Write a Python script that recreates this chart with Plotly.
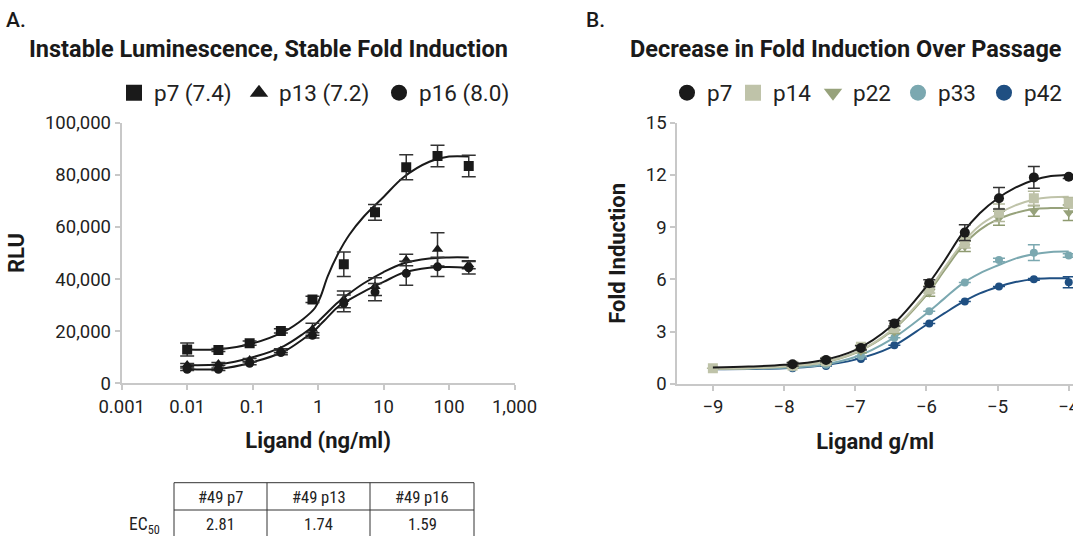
import plotly.graph_objects as go

# ---------------- Panel A data ----------------
a_conc = [0.01, 0.03, 0.09, 0.27, 0.82, 2.47, 7.4, 22.2, 66.7, 200]
a_p7 = [13000, 12800, 15400, 20100, 32200, 45700, 65600, 82900, 87200, 83400]
a_p7_err = [2500, 600, 800, 800, 1200, 4700, 3000, 4800, 4100, 4100]
a_p13 = [7000, 7400, 8900, 12500, 20700, 32200, 37100, 47300, 51400, 45500]
a_p13_err = [600, 600, 600, 800, 2300, 3200, 3400, 2200, 6400, 1500]
a_p16 = [5400, 5400, 7700, 11800, 18400, 30700, 35000, 42200, 44700, 44300]
a_p16_err = [500, 500, 600, 800, 1000, 3200, 3300, 4600, 3700, 2400]

a_fit_conc = [0.01, 0.03, 0.1, 0.3, 0.6, 0.9, 1.1, 1.4, 2, 3, 5, 10, 20, 50, 100, 200]
a_p7_fit = [13000, 13100, 15300, 19800, 24800, 29000, 33500, 41000, 49500, 57000,
            64000, 71500, 79000, 85000, 87000, 87000]
a_p13_fit = [7000, 7300, 10000, 14300, 19100, 22500, 24700, 27300, 31000, 34500,
             38400, 42700, 46000, 47900, 48300, 48300]
a_p16_fit = [5500, 5500, 8100, 12200, 17100, 20500, 22700, 25400, 29300, 32100,
             35200, 38900, 42400, 44300, 44600, 44200]

a_names = ["p7 (7.4)", "p13 (7.2)", "p16 (8.0)"]
a_xticks = [0.001, 0.01, 0.1, 1, 10, 100, 1000]
a_xticktext = ["0.001", "0.01", "0.1", "1", "10", "100", "1,000"]
a_yticks = [0, 20000, 40000, 60000, 80000, 100000]

# ---------------- Panel B data ----------------
b_logc = [-9, -7.88, -7.41, -6.92, -6.45, -5.96, -5.46, -4.98, -4.49, -4.0]
b_p7 = [None, 1.13, 1.38, 2.07, 3.48, 5.78, 8.69, 10.66, 11.86, 11.9]
b_p7_err = [0, 0.1, 0.1, 0.12, 0.15, 0.2, 0.45, 0.62, 0.63, 0.1]
b_p14 = [0.9, 1.05, 1.3, 2.14, 3.2, 5.43, 8.1, 9.83, 10.66, 10.41]
b_p14_err = [0, 0.1, 0.1, 0.1, 0.1, 0.2, 0.3, 0.5, 0.4, 0.3]
b_p22 = [None, 1.0, 1.25, 1.9, 3.0, 5.24, 7.9, 9.51, 9.93, 9.83]
b_p22_err = [0, 0.1, 0.1, 0.1, 0.1, 0.2, 0.3, 0.4, 0.3, 0.45]
b_p33 = [None, 0.95, 1.1, 1.6, 2.66, 4.17, 5.82, 7.12, 7.54, 7.37]
b_p33_err = [0, 0, 0, 0, 0, 0, 0, 0.1, 0.45, 0.1]
b_p42 = [None, 0.90, 1.03, 1.43, 2.22, 3.48, 4.73, 5.59, 6.01, 5.84]
b_p42_err = [0, 0, 0, 0, 0, 0, 0, 0, 0.05, 0.32]

b_fit_x = [-9, -8.5, -8, -7.5, -7, -6.5, -6, -5.75, -5.5, -5.25, -5, -4.75, -4.5, -4.25, -4]
b_p7_fit = [0.95, 1.0, 1.1, 1.33, 1.95, 3.3, 5.6, 7.05, 8.62, 9.8, 10.65, 11.27, 11.7, 11.94, 12.0]
b_p14_fit = [0.88, 0.9, 1.0, 1.2, 1.8, 3.05, 5.2, 6.65, 8.05, 9.1, 9.75, 10.25, 10.58, 10.72, 10.75]
b_p22_fit = [0.88, 0.9, 1.0, 1.2, 1.78, 3.0, 5.1, 6.5, 7.88, 8.85, 9.45, 9.82, 10.05, 10.1, 10.1]
b_p33_fit = [0.87, 0.88, 0.93, 1.08, 1.55, 2.55, 4.05, 4.9, 5.75, 6.35, 6.8, 7.2, 7.45, 7.58, 7.6]
b_p42_fit = [0.85, 0.86, 0.9, 1.05, 1.4, 2.1, 3.4, 4.05, 4.68, 5.2, 5.57, 5.85, 6.02, 6.07, 6.07]

b_names = ["p7", "p14", "p22", "p33", "p42"]

# ---------------- Table ----------------
table_cols = ["#49 p7", "#49 p13", "#49 p16"]
table_ec50 = ["2.81", "1.74", "1.59"]

# ---------------- Styles ----------------
FONT = "Roboto"
NARROW = "Roboto Condensed, Liberation Sans Narrow, Arial Narrow, DejaVu Sans Condensed, sans-serif"
INK = "#1a1a1a"
AXIS = "#c8c8c8"
W, H = 1073, 536

def px(x):
    return x / W

def py(y):
    return 1 - y / H

fig = go.Figure()

# legend slots (one per entry, so each entry sits where the reference puts it)
a_legend_ids = ["legend", "legend2", "legend3"]
a_legend_x = [114, 239, 379]
b_legend_ids = ["legend4", "legend5", "legend6", "legend7", "legend8"]
b_legend_x = [667, 733, 813, 898, 984]

# Panel A traces
a_sets = [
    (a_p7, a_p7_err, a_p7_fit, "square", 10),
    (a_p13, a_p13_err, a_p13_fit, "triangle-up", 10),
    (a_p16, a_p16_err, a_p16_fit, "circle", 9),
]
for k, ((vals, err, fit, sym, sz), name) in enumerate(zip(a_sets, a_names)):
    fig.add_trace(go.Scatter(
        x=a_fit_conc, y=fit, mode="lines", line=dict(color=INK, width=2, shape="spline", smoothing=1),
        xaxis="x", yaxis="y", showlegend=False, hoverinfo="skip"))
    fig.add_trace(go.Scatter(
        x=a_conc, y=vals, mode="markers", name=name,
        marker=dict(symbol=sym, size=sz, color=INK),
        error_y=dict(type="data", array=err, visible=True, color="#333333", thickness=1.5, width=7),
        xaxis="x", yaxis="y", showlegend=False))
    fig.add_trace(go.Scatter(
        x=[None], y=[None], mode="markers", name=name,
        marker=dict(symbol=sym, size=16, color=INK),
        xaxis="x", yaxis="y", legend=a_legend_ids[k], showlegend=True))

# Panel B traces
b_colors = ["#1a1a1a", "#bfc3a9", "#97a27b", "#7ba8b0", "#1f4f82"]
b_err_colors = ["#333333", "#b3b89b", "#8e9a70", "#7ba8b0", "#1f4f82"]
b_symbols = ["circle", "square", "triangle-down", "circle", "circle"]
b_sizes = [10, 10, 10, 8, 8]
b_vals = [b_p7, b_p14, b_p22, b_p33, b_p42]
b_errs = [b_p7_err, b_p14_err, b_p22_err, b_p33_err, b_p42_err]
b_fits = [b_p7_fit, b_p14_fit, b_p22_fit, b_p33_fit, b_p42_fit]

for i in [4, 3, 2, 1, 0]:
    fig.add_trace(go.Scatter(
        x=b_fit_x, y=b_fits[i], mode="lines",
        line=dict(color=b_colors[i], width=2, shape="spline", smoothing=1),
        xaxis="x2", yaxis="y2", showlegend=False, hoverinfo="skip"))
    fig.add_trace(go.Scatter(
        x=b_logc, y=b_vals[i], mode="markers", name=b_names[i],
        marker=dict(symbol=b_symbols[i], size=b_sizes[i], color=b_colors[i]),
        error_y=dict(type="data", array=b_errs[i], visible=True, color=b_err_colors[i],
                     thickness=1.5, width=6),
        xaxis="x2", yaxis="y2", showlegend=False))

for i in range(5):
    fig.add_trace(go.Scatter(
        x=[None], y=[None], mode="markers", name=b_names[i],
        marker=dict(symbol=b_symbols[i], size=16, color=b_colors[i]),
        xaxis="x2", yaxis="y2", legend=b_legend_ids[i], showlegend=True))

axis_common = dict(
    showline=True, linecolor=AXIS, linewidth=2, ticks="outside", ticklen=5,
    tickcolor=AXIS, tickwidth=2, showgrid=False, zeroline=False, automargin=False,
    ticklabeloverflow="allow",
    tickfont=dict(family=FONT, size=18.5, color="#222222"),
)
title_font = dict(family=FONT, size=22, color="#1a1a1a", weight="bold")

legend_style = dict(orientation="h", xanchor="left", y=py(93), yanchor="middle",
                    font=dict(family=FONT, size=22.5, color="#222222"),
                    bgcolor="rgba(0,0,0,0)", itemwidth=30, itemclick=False,
                    itemdoubleclick=False)
legends = {}
for lid, lx in zip(a_legend_ids + b_legend_ids, a_legend_x + b_legend_x):
    legends[lid] = dict(x=px(lx), **legend_style)

fig.update_layout(
    width=W, height=H,
    margin=dict(l=0, r=0, t=0, b=0, autoexpand=False),
    paper_bgcolor="white", plot_bgcolor="white",
    font=dict(family=FONT, color="#222222"),
    xaxis=dict(type="log", range=[-3, 3], domain=[px(121.7), px(514.5)], anchor="y",
               tickvals=a_xticks, ticktext=a_xticktext,
               title=dict(text="Ligand (ng/ml)", font=title_font, standoff=16),
               **axis_common),
    yaxis=dict(range=[0, 100000], domain=[py(383.3), py(122.7)], anchor="x",
               tickvals=a_yticks, tickformat=",",
               title=dict(text="RLU", font=title_font, standoff=14),
               **axis_common),
    xaxis2=dict(range=[-9.5, -3.94], domain=[px(677.3), 1.0], anchor="y2",
                tick0=-9, dtick=1,
                title=dict(text="Ligand g/ml", font=title_font, standoff=16),
                **axis_common),
    yaxis2=dict(range=[0, 15], domain=[py(384), py(122.7)], anchor="x2",
                tick0=0, dtick=3,
                title=dict(text="Fold Induction", font=title_font, standoff=14),
                **axis_common),
    showlegend=True,
    **legends,
)

annotations = [
    dict(text="A.", x=px(4), y=py(20), xanchor="left", yanchor="middle",
         font=dict(family=FONT, size=21, color="#1a1a1a", weight=500)),
    dict(text="Instable Luminescence, Stable Fold Induction", x=px(268), y=py(49),
         xanchor="center", yanchor="middle",
         font=dict(family=FONT, size=23.5, color="#1a1a1a", weight="bold")),
    dict(text="B.", x=px(584), y=py(20), xanchor="left", yanchor="middle",
         font=dict(family=FONT, size=21, color="#1a1a1a", weight=500)),
    dict(text="Decrease in Fold Induction Over Passage", x=px(846), y=py(49),
         xanchor="center", yanchor="middle",
         font=dict(family=FONT, size=23.5, color="#1a1a1a", weight="bold")),
]

# Table drawn with shapes + text
col_edges = [174, 267, 370, 474]
row_top, row_mid, row_bot = 482.7, 510, 536
shapes = []
for yv in [row_top, row_mid]:
    shapes.append(dict(type="line", xref="paper", yref="paper",
                       x0=px(col_edges[0]), x1=px(col_edges[-1]), y0=py(yv), y1=py(yv),
                       line=dict(color="#333333", width=1)))
for xv in col_edges:
    shapes.append(dict(type="line", xref="paper", yref="paper",
                       x0=px(xv), x1=px(xv), y0=py(row_top), y1=py(row_bot),
                       line=dict(color="#333333", width=1)))
for i, (hdr, val) in enumerate(zip(table_cols, table_ec50)):
    cx = (col_edges[i] + col_edges[i + 1]) / 2
    annotations.append(dict(text=hdr, x=px(cx), y=py(497), xanchor="center", yanchor="middle",
                            font=dict(family=NARROW, size=16.5, color="#222222")))
    annotations.append(dict(text=val, x=px(cx), y=py(524), xanchor="center", yanchor="middle",
                            font=dict(family=NARROW, size=16.5, color="#222222")))
annotations.append(dict(text="EC<sub>50</sub>", x=px(162), y=py(525), xanchor="right",
                        yanchor="middle", font=dict(family=NARROW, size=17.5, color="#222222")))

for a in annotations:
    a.setdefault("xref", "paper")
    a.setdefault("yref", "paper")
    a.setdefault("showarrow", False)

fig.update_layout(annotations=annotations, shapes=shapes)

fig.write_html(
    "out.html",
    config={"displayModeBar": False},
    post_script="document.documentElement.style.margin='0';document.body.style.margin='0';"
                "document.body.style.padding='0';document.body.style.overflow='hidden';",
)
